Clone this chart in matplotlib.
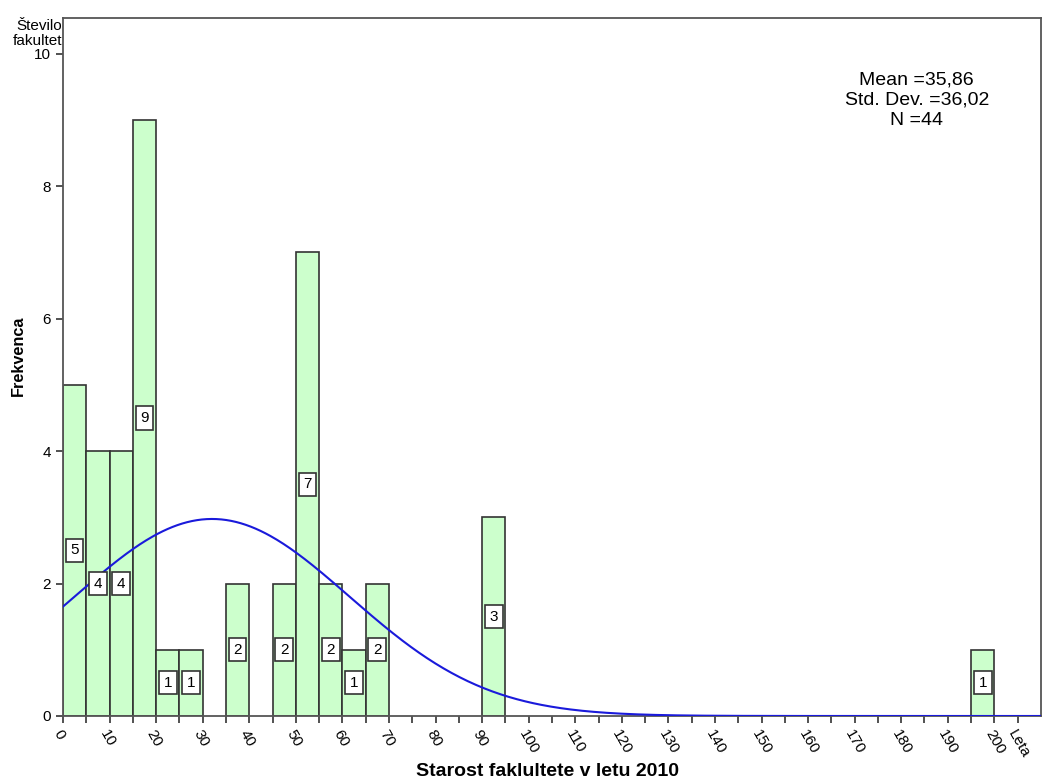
import numpy as np
import matplotlib
matplotlib.use("Agg")
from matplotlib import pyplot as plt

plt.rcParams['font.family'] = ['Liberation Sans', 'DejaVu Sans']

# histogram bins (left edges, width 5) and counts
bin_left = [0, 5, 10, 15, 20, 25, 35, 45, 50, 55, 60, 65, 90, 195]
counts = [5, 4, 4, 9, 1, 1, 2, 2, 7, 2, 1, 2, 3, 1]
bin_width = 5

n_total = 44
stat_mean = "35,86"
stat_sd = "36,02"

# fitted normal curve as drawn in the picture
curve_mean = 32.0
curve_sd = 29.5

x_ticks = list(range(0, 201, 10))

fig = plt.figure(figsize=(10.43, 7.82), dpi=100)
ax = fig.add_axes([0.0604, 0.0844, 0.9376, 0.8926])

ax.bar(bin_left, counts, width=bin_width, align='edge',
       color='#ccffcc', edgecolor='#333333', linewidth=1.2, zorder=2)

xs = np.linspace(0, 210, 600)
ys = n_total * bin_width / (curve_sd * np.sqrt(2 * np.pi)) * \
    np.exp(-0.5 * ((xs - curve_mean) / curve_sd) ** 2)
ax.plot(xs, ys, color='#1a1adb', linewidth=1.5, zorder=3)

for left, c in zip(bin_left, counts):
    ax.text(left + bin_width / 2, c / 2, str(c), ha='center', va='center',
            fontsize=11, zorder=4,
            bbox=dict(boxstyle='square,pad=0.3', facecolor='white',
                      edgecolor='#333333', linewidth=1.2))

ax.set_xlim(0, 210)
ax.set_ylim(0, 10.54)
ax.set_yticks([0, 2, 4, 6, 8, 10])
ax.set_yticklabels(['0', '2', '4', '6', '8', '10'], fontsize=11)
ax.set_xticks(x_ticks + [205])
ax.set_xticklabels([str(t) for t in x_ticks] + ['Leta'], fontsize=11,
                   rotation=-60, ha='left', va='top', rotation_mode='anchor')
ax.set_xticks(list(range(5, 210, 10)), minor=True)
ax.tick_params(axis='both', which='major', length=5, width=1.2, color='#333333')
ax.tick_params(axis='x', which='minor', length=5, width=1.2, color='#333333')
for s in ax.spines.values():
    s.set_color('#555555')
    s.set_linewidth(1.3)

fig.text(18 / 1043, 1 - 356 / 782, 'Frekvenca', rotation=90, ha='center',
         va='center', fontsize=11.7, fontweight='bold')
fig.text(548 / 1043, 1 - 771 / 782, 'Starost faklultete v letu 2010',
         ha='center', va='center', fontsize=14, fontweight='bold')

fig.text(0.0595, 1 - 33.5 / 782, 'Število\nfakultet', ha='right', va='center',
         fontsize=11, linespacing=1.05)

ax.text(0.873, 0.882, 'Mean =' + stat_mean + '\nStd. Dev. =' + stat_sd +
        '\nN =' + str(n_total), transform=ax.transAxes, ha='center',
        va='center', fontsize=14, linespacing=1.25)

fig.savefig('out.png', dpi=100)
